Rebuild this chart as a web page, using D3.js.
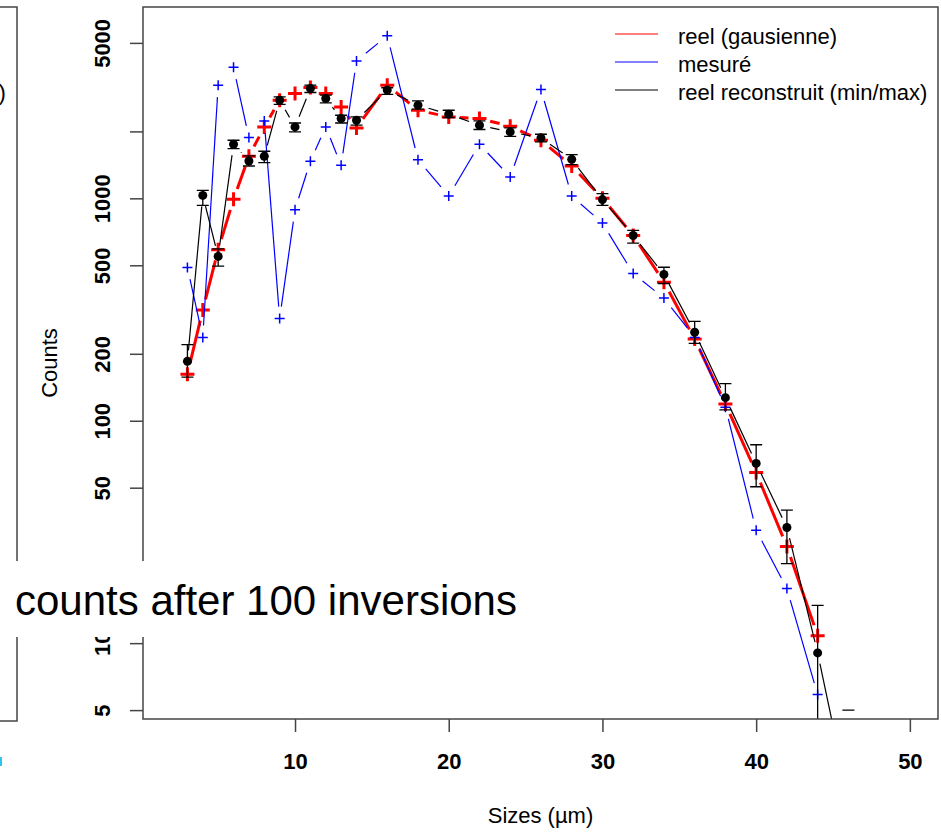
<!DOCTYPE html>
<html>
<head>
<meta charset="utf-8">
<script src="https://cdn.jsdelivr.net/npm/d3@7"></script>
<style>
  body { margin: 0; background: #fff; }
  svg { display: block; font-family: "Liberation Sans", Arial, sans-serif; }
</style>
</head>
<body>
<svg id="chart" width="941" height="835"></svg>
<script>
// sizes (µm) of each bin
var sizes = [3, 4, 5, 6, 7, 8, 9, 10, 11, 12, 13, 14, 16, 18, 20, 22, 24, 26, 28, 30, 32, 34, 36, 38, 40, 42, 44];
var sizesRec = [3, 4, 5, 6, 7, 8, 9, 10, 11, 12, 13, 14, 16, 18, 20, 22, 24, 26, 28, 30, 32, 34, 36, 38, 40, 42, 44, 46];

// reel (gausienne)
var reel = [162, 315, 588, 990, 1546, 2095, 2762, 2962, 3151, 2962, 2576, 2073, 3228, 2489, 2323, 2285, 2110, 1825, 1398, 1000, 681, 420, 233, 119, 58.5, 27.2, 10.8];
// mesuré
var mesure = [489, 237, 3228, 3883, 1876, 2229, 288, 889, 1468, 2095, 1408, 4150, 5381, 1493, 1024, 1751, 1247, 3088, 1024, 774, 459, 356, 237, 115, 32.2, 17.6, 5.87];
// reel reconstruit (min/max)
var recon    = [185, 1031, 548, 1751, 1472, 1546, 2762, 2095, 3120, 2812, 2285, 2245, 3067, 2624, 2390, 2132, 1989, 1869, 1498, 987, 681, 455, 250, 127, 64.3, 33.1, 9.04, 2];
var reconMin = [157, 930, 496, 1674, 1398, 1448, 2645, 1989, 2992, 2686, 2182, 2132, 2937, 2518, 2309, 2040, 1901, 1793, 1418, 930, 629, 414, 223, 112, 50.5, 22.8, 1, 5];
var reconMax = [220, 1086, 593, 1825, 1551, 1628, 2858, 2182, 3228, 2910, 2364, 2323, 3142, 2742, 2489, 2229, 2073, 1942, 1574, 1050, 718, 490, 280, 147, 78, 39.6, 14.8, 5];

var xTicks = [10, 20, 30, 40, 50];
var yTicks = [5, 10, 20, 50, 100, 200, 500, 1000, 2000, 5000];
var yTickLabels = ["5", "10", "20", "50", "100", "200", "500", "1000", "", "5000"];

var legendLabels = ["reel (gausienne)", "mesuré", "reel reconstruit (min/max)"];
var legendColors = ["#ff0000", "#0000ff", "#000000"];

var box = {left: 143, top: 7, right: 938, bottom: 719};

var svg = d3.select("#chart");

var x = d3.scaleLinear().domain([0.11, 51.83]).range([box.left, box.right]);
var y = d3.scaleLog().domain([4.56, 7250]).range([box.bottom, box.top]);

// remnant of the panel on the left
svg.append("path")
  .attr("d", "M0," + box.top + "H17V721H0")
  .attr("fill", "none")
  .attr("stroke", "#444")
  .attr("stroke-width", 1.5);
svg.append("text")
  .attr("x", -1.5).attr("y", 100)
  .style("font-size", "22px")
  .text(")");
svg.append("rect")
  .attr("x", 0).attr("y", 757).attr("width", 2).attr("height", 9)
  .attr("fill", "#29c6f2");

svg.append("clipPath").attr("id", "plotclip")
  .append("rect")
  .attr("x", box.left).attr("y", box.top)
  .attr("width", box.right - box.left).attr("height", box.bottom - box.top);

//Axes
var xAxis = svg.append("g")
  .attr("transform", "translate(0," + box.bottom + ")")
  .call(d3.axisBottom(x).tickValues(xTicks).tickSize(13).tickFormat(d3.format("d")));
xAxis.select(".domain").remove();
xAxis.selectAll("line").attr("stroke", "#444").attr("stroke-width", 1.5);
xAxis.selectAll("text")
  .attr("y", 50).attr("dy", 0)
  .attr("fill", "#000")
  .style("font-size", "22px").style("font-weight", "bold")
  .style("font-family", "'Liberation Sans', Arial, sans-serif");

var yAxis = svg.append("g")
  .attr("transform", "translate(" + box.left + ",0)")
  .call(d3.axisLeft(y).tickValues(yTicks).tickSize(13).tickFormat(function(d, i){ return yTickLabels[i]; }));
yAxis.select(".domain").remove();
yAxis.selectAll("line").attr("stroke", "#444").attr("stroke-width", 1.5);
yAxis.selectAll("text")
  .attr("x", 0).attr("dy", 0)
  .attr("text-anchor", "middle")
  .attr("transform", "translate(-33,0) rotate(-90)")
  .attr("fill", "#000")
  .style("font-size", "22px").style("font-weight", "bold")
  .style("font-family", "'Liberation Sans', Arial, sans-serif");

//Axis titles
svg.append("text")
  .attr("x", (box.left + box.right) / 2).attr("y", 823)
  .attr("text-anchor", "middle")
  .style("font-size", "22px")
  .text("Sizes (µm)");
svg.append("text")
  .attr("transform", "translate(57," + ((box.top + box.bottom) / 2) + ") rotate(-90)")
  .attr("text-anchor", "middle")
  .style("font-size", "22px")
  .text("Counts");

var plot = svg.append("g").attr("clip-path", "url(#plotclip)");

// type="b" style segments: lines stop short of each point
function gappedLine(g, xs, ys, color, width, gap){
  for (var i = 0; i < xs.length - 1; i++){
    var x1 = x(xs[i]), y1 = y(ys[i]), x2 = x(xs[i + 1]), y2 = y(ys[i + 1]);
    var dx = x2 - x1, dy = y2 - y1, len = Math.sqrt(dx * dx + dy * dy);
    if (len <= 2 * gap) continue;
    var ux = dx / len, uy = dy / len;
    g.append("line")
      .attr("x1", x1 + ux * gap).attr("y1", y1 + uy * gap)
      .attr("x2", x2 - ux * gap).attr("y2", y2 - uy * gap)
      .attr("stroke", color).attr("stroke-width", width);
  }
}

function crosses(g, xs, ys, color, half, width){
  g.selectAll(null).data(xs).enter().append("path")
    .attr("d", function(d, i){
      var cx = x(d), cy = y(ys[i]);
      return "M" + (cx - half) + "," + cy + "H" + (cx + half) + "M" + cx + "," + (cy - half) + "V" + (cy + half);
    })
    .attr("stroke", color).attr("stroke-width", width).attr("fill", "none");
}

//reel (gausienne)
gappedLine(plot, sizes, reel, "#ff0000", 3, 11);
crosses(plot, sizes, reel, "#ff0000", 7, 3);

//mesuré
gappedLine(plot, sizes, mesure, "#0000ff", 1.2, 12);
crosses(plot, sizes, mesure, "#0000ff", 5, 1.5);

//reel reconstruit with min/max bars
gappedLine(plot, sizesRec, recon, "#000000", 1.2, 11);
plot.selectAll(null).data(sizesRec).enter().append("path")
  .attr("d", function(d, i){
    var cx = x(d), lo = y(reconMin[i]), hi = y(reconMax[i]);
    return "M" + cx + "," + lo + "V" + hi +
           "M" + (cx - 6) + "," + hi + "H" + (cx + 6) +
           "M" + (cx - 6) + "," + lo + "H" + (cx + 6);
  })
  .attr("stroke", "#000").attr("stroke-width", 1.3).attr("fill", "none");
plot.selectAll(null).data(sizesRec).enter().append("circle")
  .attr("cx", function(d){ return x(d); })
  .attr("cy", function(d, i){ return y(recon[i]); })
  .attr("r", 4.5)
  .attr("fill", "#000");

//Box
svg.append("rect")
  .attr("x", box.left).attr("y", box.top)
  .attr("width", box.right - box.left).attr("height", box.bottom - box.top)
  .attr("fill", "none").attr("stroke", "#444").attr("stroke-width", 1.5);

//Legend
var legend = svg.append("g");
legendLabels.forEach(function(label, i){
  var ly = 34 + i * 28;
  legend.append("line")
    .attr("x1", 615).attr("x2", 658).attr("y1", ly).attr("y2", ly)
    .attr("stroke", legendColors[i]).attr("stroke-width", 1.2);
  legend.append("text")
    .attr("x", 678).attr("y", ly + 10)
    .style("font-size", "22px")
    .text(label);
});

//White caption box pasted over the chart
svg.append("rect")
  .attr("x", 0).attr("y", 561).attr("width", 540).attr("height", 76)
  .attr("fill", "#fff");
svg.append("text")
  .attr("x", 15).attr("y", 615)
  .style("font-size", "42px")
  .text("counts after 100 inversions");
</script>
</body>
</html>
